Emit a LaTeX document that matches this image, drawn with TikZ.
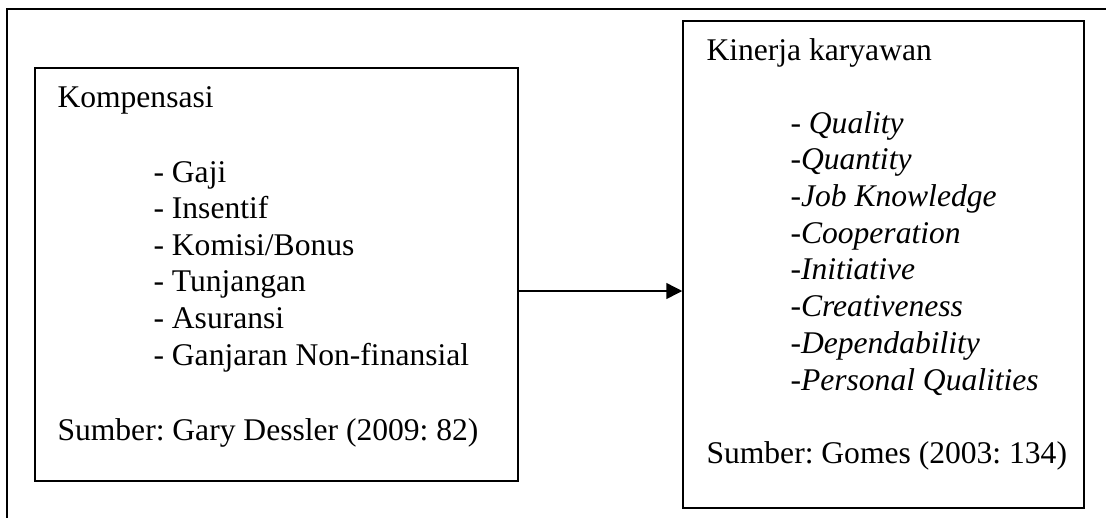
\documentclass[tikz,border=0pt]{standalone}
\usepackage{fontspec}
\setmainfont{Liberation Serif}
\usetikzlibrary{arrows.meta}
\frenchspacing
\begin{document}
\begin{tikzpicture}[x=0.38pt,y=-0.38pt,
    txt/.style={anchor=base west,inner sep=0pt,font=\fontsize{12pt}{13.9pt}\selectfont},
    box/.style={draw,line width=0.55pt,inner sep=0pt}]
      \useasboundingbox (0,0) rectangle (1106,518);
      \draw[line width=0.8pt] (1106,9) -- (7,9) -- (7,518);
      \draw
        (276.5,274.5) node[box,minimum width=183.5pt,minimum height=156.9pt] (K){}
        (883.5,264.5) node[box,minimum width=152.4pt,minimum height=185.1pt] (Q){};
      \draw
        (57,107) node[txt] (k0){Kompensasi}
        (153,182) node[txt] (k1){- Gaji}
        (153,218.6) node[txt] (k2){- Insentif}
        (153,255.2) node[txt] (k3){- Komisi/Bonus}
        (153,291.8) node[txt] (k4){- Tunjangan}
        (153,328.4) node[txt] (k5){- Asuransi}
        (153,365) node[txt] (k6){- Ganjaran Non-finansial}
        (57,440) node[txt] (k7){Sumber: Gary Dessler (2009: 82)};
      \draw
        (706,60) node[txt] (q0){Kinerja karyawan}
        (790,133) node[txt] (q1){- \textit{Quality}}
        (790,169.7) node[txt] (q2){-\textit{Quantity}}
        (790,206.4) node[txt] (q3){-\textit{Job Knowledge}}
        (790,243.1) node[txt] (q4){-\textit{Cooperation}}
        (790,279.8) node[txt] (q5){-\textit{Initiative}}
        (790,316.5) node[txt] (q6){-\textit{Creativeness}}
        (790,353.2) node[txt] (q7){-\textit{Dependability}}
        (790,390) node[txt] (q8){-\textit{Personal Qualities}}
        (706,463) node[txt] (q9){Sumber: Gomes (2003: 134)};
      \begin{scope}[line width=0.55pt,-{Triangle[length=6pt,width=6pt]}]
        \coordinate (m) at ([yshift=-6.27pt]K.east);
        \draw (m) to (m -| Q.west);
      \end{scope}
    \end{tikzpicture}
\end{document}
